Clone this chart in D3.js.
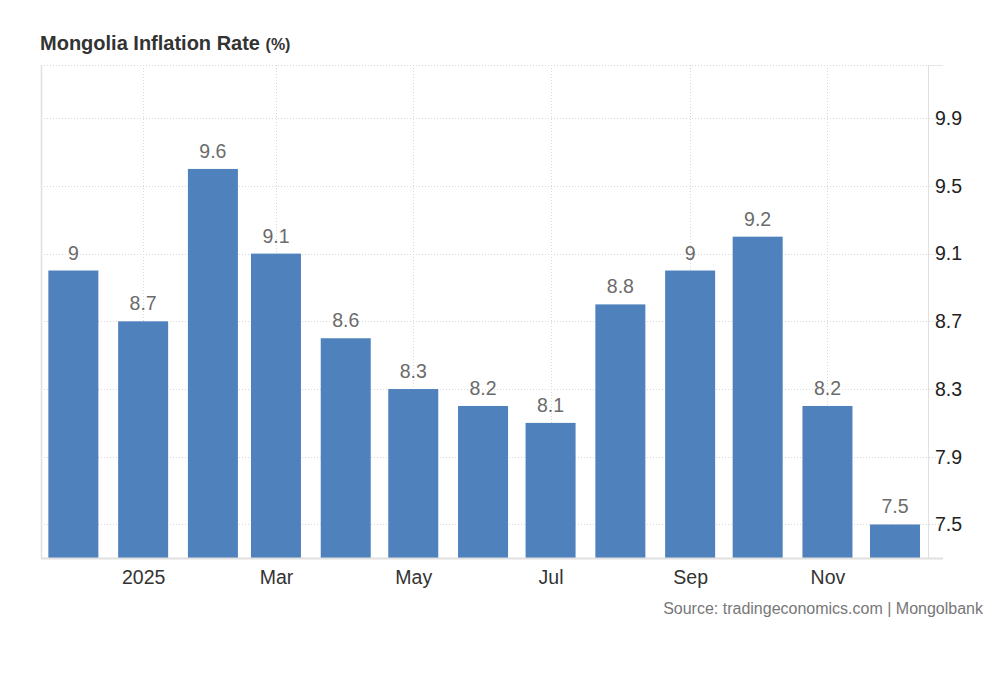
<!DOCTYPE html>
<html>
<head>
<meta charset="utf-8">
<script src="https://cdn.jsdelivr.net/npm/d3@7"></script>
<style>
  html, body { margin: 0; padding: 0; background: #fff; }
  svg { display: block; font-family: "Liberation Sans", Arial, Helvetica, sans-serif; }
</style>
</head>
<body>
<svg id="chart" width="1000" height="683"></svg>
<script>
// Data
const months = ["2024-12","2025-01","2025-02","2025-03","2025-04","2025-05","2025-06","2025-07","2025-08","2025-09","2025-10","2025-11","2025-12"];
const values = [9, 8.7, 9.6, 9.1, 8.6, 8.3, 8.2, 8.1, 8.8, 9, 9.2, 8.2, 7.5];
const yTicks = [7.5, 7.9, 8.3, 8.7, 9.1, 9.5, 9.9];
const xTickMonths = ["2025-01","2025-03","2025-05","2025-07","2025-09","2025-11"];
const xTickLabels = ["2025","Mar","May","Jul","Sep","Nov"];

const parse = d3.timeParse("%Y-%m");
const data = months.map((m, i) => ({ date: parse(m), value: values[i] }));

const svg = d3.select("#chart");
const plotL = 41, plotR = 928, plotT = 65, plotB = 558;

const x = d3.scaleTime()
  .domain([new Date(2024, 10, 16, 15), new Date(2025, 11, 15, 16)])
  .range([plotL, plotR]);
const y = d3.scaleLinear()
  .domain([7.302, 10.214])
  .range([plotB, plotT]);

const barW = 50;

// Title
const title = svg.append("text")
  .attr("x", 40).attr("y", 50)
  .attr("fill", "#333")
  .attr("font-weight", "bold")
  .attr("font-size", 20);
title.append("tspan").text("Mongolia Inflation Rate ");
title.append("tspan").attr("font-size", 16).text("(%)");

// Horizontal grid
svg.append("g").selectAll("line").data(yTicks).join("line")
  .attr("x1", plotL).attr("x2", 943)
  .attr("y1", d => Math.round(y(d)) + 0.5).attr("y2", d => Math.round(y(d)) + 0.5)
  .attr("stroke", "#d9d9d9").attr("stroke-dasharray", "1,2");
svg.append("line")
  .attr("x1", plotL).attr("x2", plotR)
  .attr("y1", plotT + 0.5).attr("y2", plotT + 0.5)
  .attr("stroke", "#d9d9d9").attr("stroke-dasharray", "1,2");
svg.append("line")
  .attr("x1", plotR).attr("x2", 943)
  .attr("y1", plotT + 0.5).attr("y2", plotT + 0.5)
  .attr("stroke", "#e6e6e6");

// Vertical grid
const xTickDates = xTickMonths.map(parse);
svg.append("g").selectAll("line").data(xTickDates).join("line")
  .attr("x1", d => Math.round(x(d)) + 0.5).attr("x2", d => Math.round(x(d)) + 0.5)
  .attr("y1", plotT).attr("y2", plotB)
  .attr("stroke", "#d9d9d9").attr("stroke-dasharray", "1,2");

// Bars
svg.append("g").selectAll("rect").data(data).join("rect")
  .attr("x", d => x(d.date) - barW / 2)
  .attr("width", barW)
  .attr("y", d => y(d.value))
  .attr("height", d => plotB - y(d.value))
  .attr("fill", "#4f81bd");

// Value labels
svg.append("g").selectAll("text").data(data).join("text")
  .attr("x", d => x(d.date))
  .attr("y", d => y(d.value) - 11)
  .attr("text-anchor", "middle")
  .attr("font-size", 19.5)
  .attr("fill", "#6b6b6b")
  .text(d => d3.format("")(d.value));

// Axis lines
svg.append("line")
  .attr("x1", plotL + 0.5).attr("x2", plotL + 0.5)
  .attr("y1", plotT).attr("y2", plotB)
  .attr("stroke", "#e0e0e0").attr("stroke-width", 1.5);
svg.append("line")
  .attr("x1", plotR + 0.5).attr("x2", plotR + 0.5)
  .attr("y1", plotT).attr("y2", plotB)
  .attr("stroke", "#e0e0e0").attr("stroke-width", 1);
svg.append("line")
  .attr("x1", plotL).attr("x2", 943)
  .attr("y1", plotB + 0.5).attr("y2", plotB + 0.5)
  .attr("stroke", "#e0e0e0").attr("stroke-width", 2);

// X axis
const xAxis = d3.axisBottom(x)
  .tickValues(xTickDates)
  .tickFormat((d, i) => xTickLabels[i])
  .tickSize(0).tickPadding(12);
const gx = svg.append("g").attr("transform", `translate(0,${plotB})`).call(xAxis);
gx.select(".domain").remove();
gx.selectAll("text").attr("font-size", 19.5).attr("fill", "#333")
  .attr("font-family", "Liberation Sans, Arial, sans-serif");

// Y axis (right)
const yAxis = d3.axisRight(y)
  .tickValues(yTicks)
  .tickFormat(d3.format(".1f"))
  .tickSize(0).tickPadding(7);
const gy = svg.append("g").attr("transform", `translate(${plotR},0)`).call(yAxis);
gy.select(".domain").remove();
gy.selectAll("text").attr("font-size", 19.5).attr("fill", "#222")
  .attr("font-family", "Liberation Sans, Arial, sans-serif");

// Source
svg.append("text")
  .attr("x", 983).attr("y", 614)
  .attr("text-anchor", "end")
  .attr("font-size", 16)
  .attr("fill", "#777")
  .text("Source: tradingeconomics.com | Mongolbank");
</script>
</body>
</html>
